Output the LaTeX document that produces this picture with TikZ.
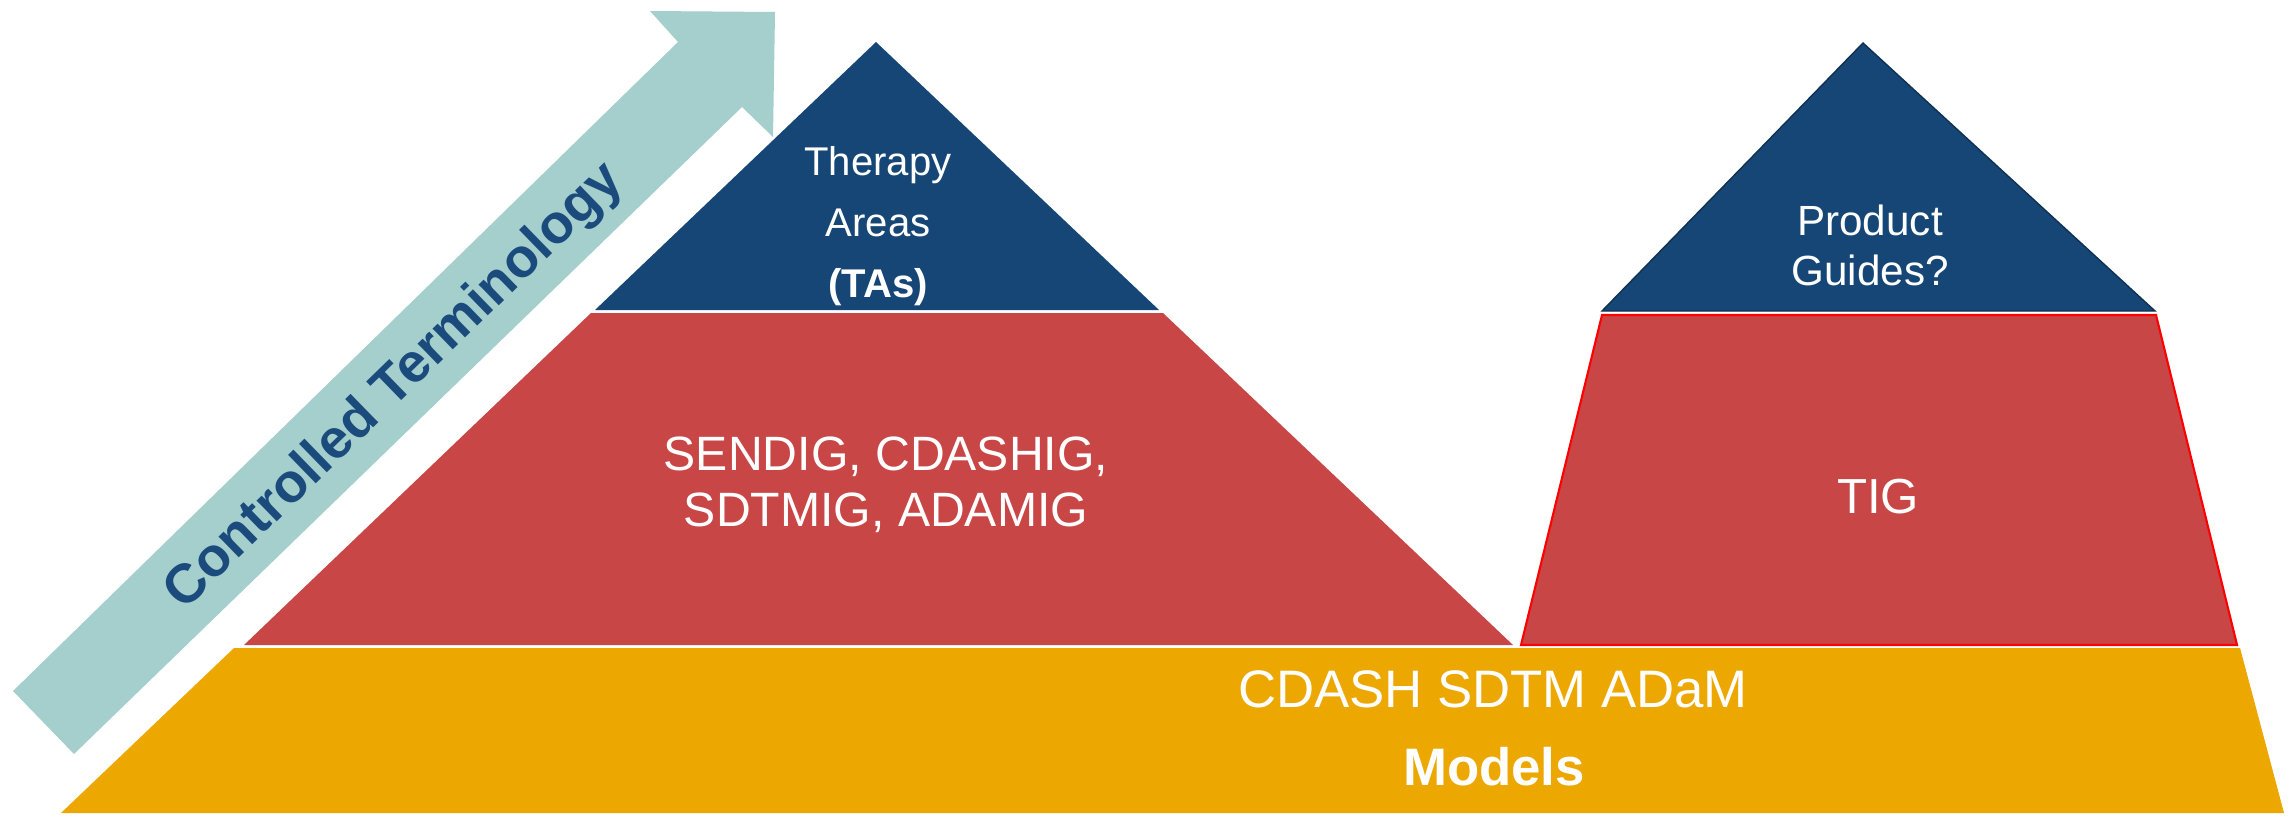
\documentclass[tikz,border=0pt]{standalone}
\usepackage{fontspec}
\setmainfont{Liberation Sans}
\definecolor{ctteal}{HTML}{A4CFCC}
\definecolor{tablue}{HTML}{164676}
\definecolor{igred}{HTML}{C84646}
\definecolor{modelgold}{HTML}{ECA800}
\definecolor{ctblue}{HTML}{1B4A7C}
\begin{document}
\begin{tikzpicture}[x=0.01cm,y=-0.01cm]
   \tikzstyle{tier text}=[text=white, align=center, inner sep=0pt]
   \useasboundingbox (0,0) rectangle (2295,821);
   \fill[white] (0,0) rectangle (2295,821);
   % controlled terminology arrow
   \fill[ctteal] (13,691) -- (678,42) -- (650,11) -- (775,12) -- (773,137)
      -- (742,107) -- (74,754) -- cycle;
   \node[rotate=44.2, text=ctblue, inner sep=0pt,
      font=\bfseries\fontsize{15.6}{18}\selectfont] (ct) at (395,387) {Controlled Terminology};
   % models layer
   \fill[modelgold] (234,648) -- (2240,648) -- (2284,813) -- (61,813) -- cycle;
   % left pyramid
   \fill[igred] (591,313) -- (1163,313) -- (1513,645) -- (244,645) -- cycle;
   \fill[tablue] (876,42) -- (1159,310) -- (595,310) -- cycle;
   % right pyramid
   \filldraw[fill=igred, draw=red, line width=0.6pt]
      (1602,315) -- (2156,315) -- (2237,645) -- (1521,645) -- cycle;
   \filldraw[fill=tablue, draw=tablue!70!black, line width=0.4pt]
      (1863,43) -- (2155,311) -- (1602,311) -- cycle;
   % texts
   \node[tier text, font=\fontsize{11.4}{17.4}\selectfont] (tas) at (878,226)
      {Therapy\\Areas\\\textbf{(TAs)}};
   \node[tier text, font=\fontsize{13.7}{15.9}\selectfont] (igs) at (886,485)
      {SENDIG, CDASHIG,\\SDTMIG, ADAMIG};
   \node[tier text, font=\fontsize{12}{14.2}\selectfont] (guides) at (1870,245)
      {Product\\Guides?};
   \node[tier text, anchor=base, font=\fontsize{14}{17}\selectfont] (tig) at (1878,513) {TIG};
   \node[tier text, anchor=base, font=\fontsize{15}{18}\selectfont] (std) at (1493,707)
      {CDASH SDTM ADaM};
   \node[tier text, anchor=base, font=\bfseries\fontsize{15}{18}\selectfont] (models) at (1494,785)
      {Models};
\end{tikzpicture}
\end{document}
